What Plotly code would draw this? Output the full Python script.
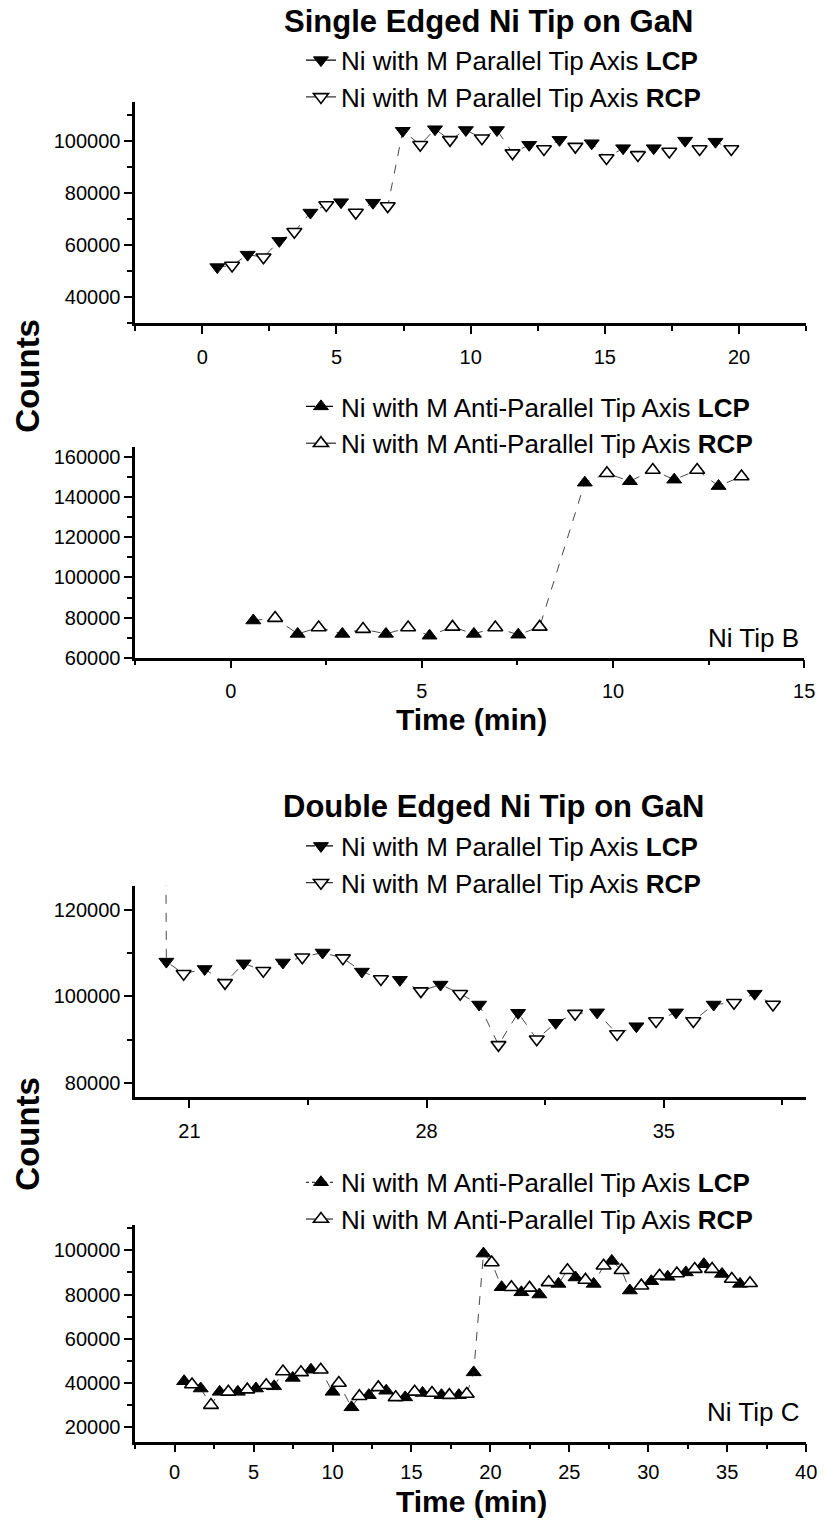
import plotly.graph_objects as go

W, H = 830, 1530
FONT = "Liberation Sans"

# ---- Single edged Ni tip, M parallel to tip axis (time in min, counts)
p1_lcp_t = [0.56, 1.69, 2.87, 4.03, 5.17, 6.36, 7.47, 8.67, 9.82, 10.98, 12.18, 13.31, 14.51, 15.68, 16.82, 17.99, 19.12]
p1_lcp = [51400, 56200, 61500, 72400, 76400, 76200, 103900, 104500, 104200, 104200, 98500, 100400, 99100, 97200, 97200, 100100, 99700]
p1_rcp_t = [1.11, 2.28, 3.43, 4.62, 5.72, 6.91, 8.12, 9.23, 10.42, 11.56, 12.73, 13.90, 15.06, 16.23, 17.40, 18.53, 19.71]
p1_rcp = [52000, 55200, 65000, 75300, 72400, 74900, 98500, 100400, 101000, 95300, 96900, 97800, 93400, 94600, 95900, 96900, 96900]

# ---- Single edged Ni tip, M anti-parallel to tip axis
p2_lcp_t = [0.59, 1.75, 2.92, 4.06, 5.20, 6.36, 7.52, 9.26, 10.44, 11.60, 12.76]
p2_lcp = [78500, 71800, 71800, 71800, 70900, 71800, 71400, 147400, 148100, 148900, 145700]
p2_rcp_t = [1.16, 2.30, 3.46, 4.64, 5.80, 6.92, 8.08, 9.84, 11.04, 12.20, 13.36]
p2_rcp = [79700, 75000, 74200, 75000, 75300, 75000, 75300, 152100, 153700, 153700, 150500]

# ---- Double edged Ni tip, M parallel to tip axis
p3_lcp_t = [20.32, 21.45, 22.60, 23.76, 24.93, 26.09, 27.21, 28.41, 29.55, 30.70, 31.81, 33.03, 34.19, 35.36, 36.47, 37.68]
p3_lcp = [108000, 106300, 107600, 107800, 110100, 105700, 103800, 102700, 98100, 96200, 93900, 96300, 93100, 96300, 98100, 100600]
p3_rcp_t = [20.83, 22.05, 23.18, 24.33, 25.53, 26.65, 27.83, 28.99, 30.12, 31.25, 32.38, 33.62, 34.77, 35.87, 37.07, 38.22]
p3_rcp = [105200, 103100, 105900, 109000, 108800, 104000, 101200, 100600, 88800, 90100, 96000, 91300, 94300, 94300, 98500, 98100]
# preceding reading, off the top of the scale
p3_prev_t = [20.30]
p3_prev = [140000]

# ---- Double edged Ni tip, M anti-parallel to tip axis
p4_lcp_t = [0.60, 1.65, 2.85, 4.00, 5.15, 6.30, 7.48, 8.63, 10.00, 11.20, 12.30, 13.40, 14.60, 15.70, 16.90, 18.00,
            18.94, 19.56, 20.71, 21.96, 23.10, 24.31, 25.39, 26.54, 27.69, 28.83, 30.19, 31.23, 32.38, 33.52, 34.67, 35.81]
p4_lcp = [40800, 37500, 36000, 36000, 37500, 38500, 42300, 46000, 36000, 29000, 34500, 36500, 33500, 35500, 34500, 34500,
          44800, 98500, 83300, 81000, 80000, 84800, 87700, 84800, 95200, 81800, 86000, 88000, 90000, 93700, 89300, 84800]
p4_rcp_t = [1.10, 2.30, 3.40, 4.60, 5.80, 6.86, 8.00, 9.25, 10.40, 11.70, 12.90, 14.00, 15.20, 16.30, 17.40, 18.50,
            20.08, 21.33, 22.48, 23.69, 24.88, 26.02, 27.17, 28.31, 29.56, 30.71, 31.81, 32.94, 34.04, 35.29, 36.44]
p4_rcp = [39300, 30000, 36000, 37000, 39000, 45200, 44800, 46000, 40000, 34000, 38000, 33500, 36000, 35500, 34500, 35000,
          94500, 83300, 83000, 85500, 91000, 86600, 93000, 91000, 84000, 88500, 89500, 91500, 91500, 87000, 85100]

LCP = "Ni with M Parallel Tip Axis <b>LCP</b>"
RCP = "Ni with M Parallel Tip Axis <b>RCP</b>"
ALCP = "Ni with M Anti-Parallel Tip Axis <b>LCP</b>"
ARCP = "Ni with M Anti-Parallel Tip Axis <b>RCP</b>"


def py(y):
    return 1 - y / H


def px(x):
    return x / W


def gapped(ts, vs):
    # isolated points: markers only in the plot, line sample in the legend
    xs, ys = [], []
    for t, v in zip(ts, vs):
        xs += [t, None]
        ys += [v, None]
    return xs, ys


def merged(ts_a, vs_a, ts_b, vs_b):
    pts = sorted(list(zip(ts_a, vs_a)) + list(zip(ts_b, vs_b)))
    return [p[0] for p in pts], [p[1] for p in pts]


fig = go.Figure()

panels = [
    (1, p1_lcp_t, p1_lcp, p1_rcp_t, p1_rcp, "triangle-down", LCP, RCP, ("solid", "solid"), None),
    (2, p2_lcp_t, p2_lcp, p2_rcp_t, p2_rcp, "triangle-up", ALCP, ARCP, ("dash", "solid"), None),
    (3, p3_lcp_t, p3_lcp, p3_rcp_t, p3_rcp, "triangle-down", LCP, RCP, ("dash", "dash"), (p3_prev_t, p3_prev)),
    (4, p4_lcp_t, p4_lcp, p4_rcp_t, p4_rcp, "triangle-up", ALCP, ARCP, ("dot", "dash"), None),
]

for n, lt, lv, rt, rv, sym, lname, rname, dashes, prev in panels:
    xa = "x" if n == 1 else f"x{n}"
    ya = "y" if n == 1 else f"y{n}"
    lg = "legend" if n == 1 else f"legend{n}"
    cx, cy = merged(lt, lv, rt, rv)
    if prev is not None:
        cx = prev[0] + cx
        cy = prev[1] + cy
    fig.add_trace(go.Scatter(x=cx, y=cy, mode="lines", xaxis=xa, yaxis=ya, showlegend=False,
                             line=dict(color="#333333", width=0.9, dash="dash"), hoverinfo="skip"))
    gx, gy = gapped(lt, lv)
    fig.add_trace(go.Scatter(x=gx, y=gy, mode="lines+markers", name=lname, xaxis=xa, yaxis=ya,
                             legend=lg, connectgaps=False,
                             line=dict(color="black", width=1.2, dash=dashes[0]),
                             marker=dict(symbol=sym, size=13, color="black", line=dict(color="black", width=1))))
    gx, gy = gapped(rt, rv)
    fig.add_trace(go.Scatter(x=gx, y=gy, mode="lines+markers", name=rname, xaxis=xa, yaxis=ya,
                             legend=lg, connectgaps=False,
                             line=dict(color="black", width=1.0, dash=dashes[1]),
                             marker=dict(symbol=sym, size=13, color="white", line=dict(color="black", width=1.6))))

tickfont = dict(family=FONT, size=20, color="black")


def axis(rng, dom, anchor, dtick, minor_dtick, tick0=0, fmt=None, standoff=None):
    d = dict(range=rng, domain=dom, anchor=anchor, showline=True, linecolor="black", linewidth=2.5,
             ticks="outside", ticklen=8, tickwidth=2, tickcolor="black", showgrid=False, zeroline=False,
             tickfont=tickfont, dtick=dtick, tick0=tick0,
             minor=dict(dtick=minor_dtick, tick0=tick0, ticks="outside", ticklen=5, tickwidth=1.5,
                        tickcolor="black", showgrid=False))
    if fmt:
        d["tickformat"] = fmt
    if standoff:
        d["ticklabelstandoff"] = standoff
    return d


XD = [px(137), px(817)]
fig.update_layout(
    xaxis=axis([-2.5, 22.5], XD, "y", 5, 2.5, standoff=6),
    yaxis=axis([29700, 114900], [py(325), py(102)], "x", 20000, 10000, fmt="d"),
    xaxis2=axis([-2.5, 15], [px(137), px(815)], "y2", 5, 2.5, standoff=6),
    yaxis2=axis([60000, 165000], [py(661.7), py(450)], "x2", 20000, 10000, fmt="d"),
    xaxis3=axis([19.4, 39.2], XD, "y3", 7, 3.5, tick0=21, standoff=6),
    yaxis3=axis([76700, 125500], [py(1105), py(891.7)], "x3", 20000, 10000, fmt="d"),
    xaxis4=axis([-2.5, 40], XD, "y4", 5, 2.5, standoff=3),
    yaxis4=axis([13500, 111600], [py(1452), py(1233.3)], "x4", 20000, 10000, fmt="d"),
)

legfont = dict(family=FONT, size=26, color="black")
for n, ytop in [(1, 36), (2, 385), (3, 828), (4, 1167)]:
    key = "legend" if n == 1 else f"legend{n}"
    fig.update_layout(**{key: dict(x=px(305), y=py(ytop), xanchor="left", yanchor="top", font=legfont,
                                   bgcolor="rgba(0,0,0,0)", itemsizing="trace", traceorder="normal")})

ann = []
titlefont = dict(family=FONT, size=31, color="black")
axfont = dict(family=FONT, size=30, color="black")
ann.append(dict(text="<b>Single Edged Ni Tip on GaN</b>", x=px(495), y=py(21), font=titlefont))
ann.append(dict(text="<b>Double Edged Ni Tip on GaN</b>", x=px(500), y=py(812), font=titlefont))
ann.append(dict(text="<b>Counts</b>", x=px(27), y=py(378), font=dict(family=FONT, size=33, color="black"), textangle=-90))
ann.append(dict(text="<b>Counts</b>", x=px(27), y=py(1142), font=dict(family=FONT, size=33, color="black"), textangle=-90))
ann.append(dict(text="<b>Time (min)</b>", x=px(478), y=py(724), font=axfont))
ann.append(dict(text="<b>Time (min)</b>", x=px(478), y=py(1512), font=axfont))
ann.append(dict(text="Ni Tip B", x=px(812), y=py(642), xanchor="right", font=legfont))
ann.append(dict(text="Ni Tip C", x=px(812), y=py(1422), xanchor="right", font=legfont))
for a in ann:
    a.setdefault("xanchor", "center")
    a.update(xref="paper", yref="paper", yanchor="middle", showarrow=False)
fig.update_layout(annotations=ann)

fig.update_layout(width=W, height=H, margin=dict(l=0, r=0, t=0, b=0),
                  paper_bgcolor="white", plot_bgcolor="white", showlegend=True,
                  font=dict(family=FONT, color="black"))

fig.write_html("out.html")
